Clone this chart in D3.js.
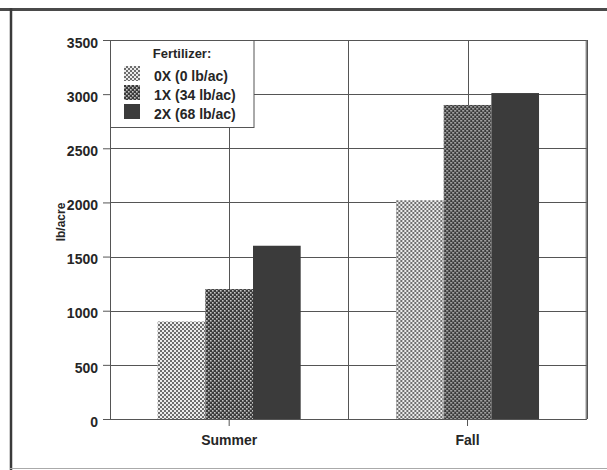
<!DOCTYPE html>
<html>
<head>
<meta charset="utf-8">
<script src="https://cdn.jsdelivr.net/npm/d3@7"></script>
<style>
  html, body { margin: 0; padding: 0; background: #fff; }
  svg { display: block; }
  text { font-family: "Liberation Sans", Arial, sans-serif; font-weight: bold; fill: #262626; }
</style>
</head>
<body>
<svg id="chart" width="607" height="470"></svg>
<script>
// Seasons on the x axis
const seasons = ["Summer", "Fall"];
// Fertilizer rates (legend entries)
const rates = ["0X (0 lb/ac)", "1X (34 lb/ac)", "2X (68 lb/ac)"];
// Yield in lb/acre, one array per fertilizer rate, in season order
const yield0X = [900, 2020];
const yield1X = [1200, 2900];
const yield2X = [1600, 3010];
// Y axis ticks
const yTicks = [0, 500, 1000, 1500, 2000, 2500, 3000, 3500];

const seriesValues = [yield0X, yield1X, yield2X];
const rows = seasons.map((s, i) => ({
  season: s,
  values: rates.map((r, j) => ({ rate: r, idx: j, value: seriesValues[j][i] }))
}));

const svg = d3.select("#chart");
const plotLeft = 110, plotRight = 586.7, plotTop = 40, plotBottom = 419;

// Fill patterns for the three rates
const defs = svg.append("defs");
const p0 = defs.append("pattern").attr("id", "pat0").attr("patternUnits", "userSpaceOnUse")
  .attr("width", 4).attr("height", 4);
p0.append("rect").attr("width", 4).attr("height", 4).attr("fill", "#ececec");
p0.append("rect").attr("x", 0).attr("y", 0).attr("width", 2).attr("height", 2).attr("fill", "#6e6e6e");
p0.append("rect").attr("x", 2).attr("y", 2).attr("width", 2).attr("height", 2).attr("fill", "#6e6e6e");

const p1 = defs.append("pattern").attr("id", "pat1").attr("patternUnits", "userSpaceOnUse")
  .attr("width", 4).attr("height", 4);
p1.append("rect").attr("width", 4).attr("height", 4).attr("fill", "#3a3a3a");
p1.append("rect").attr("x", 0).attr("y", 0).attr("width", 1.6).attr("height", 1.6).attr("fill", "#c4c4c4");
p1.append("rect").attr("x", 2).attr("y", 2).attr("width", 1.6).attr("height", 1.6).attr("fill", "#c4c4c4");

const fills = ["url(#pat0)", "url(#pat1)", "#3b3b3b"];

// Outer frame
svg.append("line").attr("x1", 0).attr("x2", 607).attr("y1", 9.5).attr("y2", 9.5)
  .attr("stroke", "#4a4a4a").attr("stroke-width", 3);
svg.append("line").attr("x1", 11).attr("x2", 11).attr("y1", 8).attr("y2", 470)
  .attr("stroke", "#3a3a3a").attr("stroke-width", 2.5);
svg.append("line").attr("x1", 10).attr("x2", 607).attr("y1", 468.5).attr("y2", 468.5)
  .attr("stroke", "#aaa").attr("stroke-width", 1);

// Scales
const y = d3.scaleLinear().domain([0, 3500]).range([plotBottom, plotTop]);
const x0 = d3.scaleBand().domain(seasons).range([plotLeft, plotRight]).padding(0);
const x1 = d3.scaleBand().domain(rates).range([0, x0.bandwidth()])
  .paddingInner(0).paddingOuter(1);

// Grid lines
const grid = svg.append("g").attr("stroke", "#555").attr("stroke-width", 1);
grid.selectAll(".hg").data(yTicks).join("line")
  .attr("x1", plotLeft).attr("x2", plotRight)
  .attr("y1", d => Math.round(y(d)) + 0.5).attr("y2", d => Math.round(y(d)) + 0.5);
const vLines = [];
seasons.forEach(s => { vLines.push(x0(s)); vLines.push(x0(s) + x0.bandwidth() / 2); });
vLines.push(plotRight);
grid.selectAll(".vg").data(vLines).join("line")
  .attr("x1", d => Math.round(d) + 0.5).attr("x2", d => Math.round(d) + 0.5)
  .attr("y1", plotTop).attr("y2", plotBottom);

// Bars
svg.append("g").selectAll("g").data(rows).join("g")
  .attr("transform", d => `translate(${x0(d.season)},0)`)
  .selectAll("rect").data(d => d.values).join("rect")
  .attr("x", d => x1(d.rate))
  .attr("width", x1.bandwidth())
  .attr("y", d => y(d.value))
  .attr("height", d => y(0) - y(d.value))
  .attr("fill", d => fills[d.idx]);

// Plot frame
svg.append("rect").attr("x", plotLeft + 0.5).attr("y", plotTop + 0.5)
  .attr("width", plotRight - plotLeft - 1).attr("height", plotBottom - plotTop)
  .attr("fill", "none").attr("stroke", "#555");

// Y axis
const yAxis = svg.append("g").attr("transform", `translate(${plotLeft},0)`)
  .call(d3.axisLeft(y).tickValues(yTicks).tickSize(7).tickPadding(5).tickFormat(d3.format("d")));
yAxis.select(".domain").remove();
yAxis.selectAll(".tick line").attr("stroke", "#555");
yAxis.selectAll(".tick text").attr("font-size", 14).attr("font-family", null)
  .attr("dy", "0.52em");

// X axis
const xAxis = svg.append("g").attr("transform", `translate(0,${plotBottom})`)
  .call(d3.axisBottom(x0).tickSize(7).tickPadding(9));
xAxis.select(".domain").remove();
xAxis.selectAll(".tick line").attr("stroke", "#555");
xAxis.selectAll(".tick text").attr("font-size", 14).attr("font-family", null);

// Y axis title
svg.append("text").attr("transform", "translate(65,222) rotate(-90)")
  .attr("text-anchor", "middle").attr("font-size", 12).text("lb/acre");

// Legend
const lg = svg.append("g");
lg.append("rect").attr("x", plotLeft + 0.5).attr("y", plotTop + 0.5).attr("width", 143.5).attr("height", 87)
  .attr("fill", "#fff").attr("stroke", "#555");
lg.append("text").attr("x", 182).attr("y", 58).attr("text-anchor", "middle")
  .attr("font-size", 13).text("Fertilizer:");
const items = lg.selectAll(".item").data(rates).join("g")
  .attr("transform", (d, i) => `translate(0,${i * 19})`);
items.append("rect").attr("x", 124).attr("y", 66).attr("width", 16).attr("height", 15)
  .attr("fill", (d, i) => fills[i]);
items.append("text").attr("x", 154).attr("y", 81).attr("font-size", 14).text(d => d);
</script>
</body>
</html>
